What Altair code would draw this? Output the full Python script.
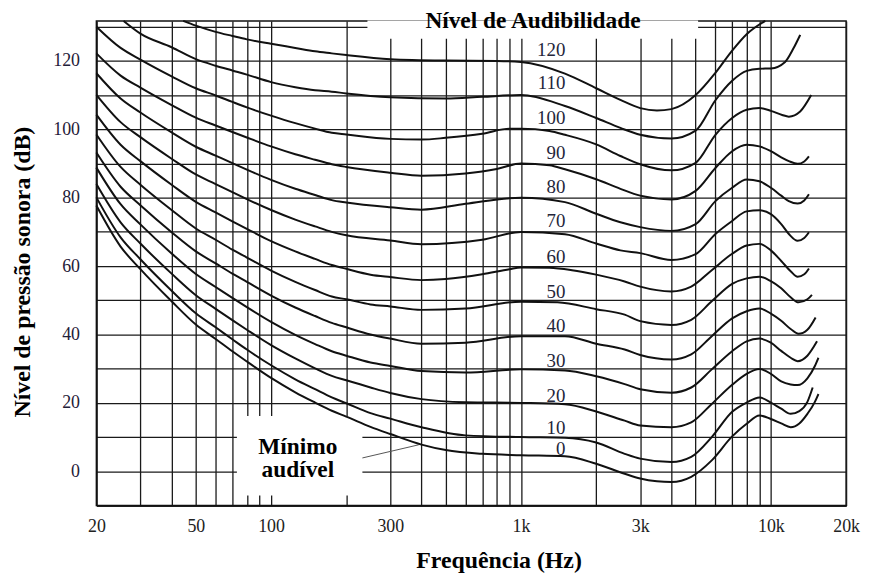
import altair as alt
import pandas as pd

# ---------------- data ----------------
F_0 = [20, 25, 30, 40, 50, 60, 70, 80, 100, 125, 150, 175, 200, 250, 300, 400, 500, 700, 1000, 1500, 2000, 2600, 3000, 3500, 4000, 4800, 5800, 7000, 8000, 9000, 10000, 11000, 12000, 13000, 14000, 15000, 15500]
DB_0 = [77.7, 65.7, 59.1, 49.7, 42.9, 38.7, 35.1, 32.1, 27.3, 23.1, 20.1, 17.7, 16.0, 13.0, 10.9, 7.8, 6.2, 5.1, 4.7, 4.4, 2.2, -0.7, -2.1, -2.9, -3.1, -1.6, 3.2, 10.2, 13.9, 16.3, 15.3, 14.0, 12.9, 14.0, 16.8, 20.3, 22.6]

F_10 = [20, 25, 30, 40, 50, 60, 70, 80, 100, 125, 150, 175, 200, 250, 300, 400, 600, 1000, 1500, 2000, 2600, 3000, 4000, 4800, 5800, 7000, 8000, 9000, 10000, 11000, 12000, 13000, 14000, 14700]
DB_10 = [80.1, 68.4, 62.0, 52.8, 46.2, 42.1, 38.6, 35.6, 31.0, 26.9, 24.0, 21.6, 19.9, 17.0, 15.4, 12.9, 10.5, 10.0, 9.8, 8.4, 5.1, 3.7, 2.7, 4.2, 10.0, 17.4, 20.1, 21.6, 20.1, 18.3, 16.8, 17.6, 20.3, 24.5]

F_20 = [20, 25, 30, 40, 50, 60, 70, 80, 100, 125, 150, 175, 200, 250, 300, 400, 600, 1000, 1500, 2000, 2600, 3000, 4000, 4800, 5800, 7000, 8000, 9000, 10000, 11000, 12000, 12800, 14000, 15000, 15500]
DB_20 = [84.0, 72.8, 66.6, 57.8, 51.5, 47.5, 44.2, 41.4, 36.9, 33.0, 30.1, 27.9, 26.6, 24.5, 22.9, 21.1, 20.2, 20.0, 19.6, 17.5, 14.8, 13.4, 12.9, 14.3, 19.7, 25.3, 28.5, 29.9, 28.5, 26.3, 25.4, 25.2, 27.2, 30.8, 33.2]

F_30 = [20, 25, 30, 40, 50, 60, 70, 80, 100, 125, 150, 175, 200, 250, 300, 400, 600, 1000, 1500, 2000, 2600, 3000, 4000, 4800, 5800, 7000, 8000, 9000, 10000, 11000, 12000, 12800, 14000, 15300]
DB_30 = [88.8, 78.1, 72.2, 63.7, 57.7, 53.9, 50.7, 48.0, 43.7, 39.9, 37.2, 35.1, 33.8, 31.8, 30.8, 29.3, 28.9, 29.8, 29.5, 27.8, 25.5, 24.0, 23.0, 24.5, 29.8, 35.1, 38.0, 38.8, 37.6, 35.2, 33.2, 32.2, 33.8, 38.0]

F_40 = [20, 25, 30, 40, 50, 60, 70, 80, 100, 125, 150, 175, 200, 250, 300, 400, 600, 1000, 1500, 2000, 2600, 3000, 4000, 4800, 5800, 7000, 8000, 9000, 10000, 11000, 12000, 12900, 14000, 15100]
DB_40 = [93.2, 83.2, 77.8, 69.9, 64.3, 60.8, 57.8, 55.4, 51.4, 47.9, 45.4, 43.4, 42.1, 40.0, 38.8, 37.3, 37.6, 39.5, 39.5, 37.3, 35.6, 34.0, 32.7, 34.2, 39.5, 44.7, 46.8, 47.6, 46.1, 44.0, 41.6, 40.2, 41.4, 45.0]

F_50 = [20, 25, 30, 40, 50, 60, 70, 80, 100, 125, 150, 175, 200, 250, 300, 400, 600, 1000, 1400, 2000, 2600, 3000, 4000, 4800, 5800, 7000, 8000, 9000, 10000, 11000, 12000, 12900, 14000, 14600]
DB_50 = [98.5, 89.0, 83.8, 76.4, 71.0, 67.7, 64.8, 62.5, 58.7, 55.4, 53.0, 51.1, 50.3, 48.8, 48.2, 47.2, 47.6, 49.6, 49.4, 47.4, 45.8, 43.9, 42.8, 44.3, 49.7, 54.8, 56.4, 56.9, 55.6, 53.5, 50.9, 49.4, 50.3, 51.6]

F_60 = [20, 25, 30, 40, 50, 60, 70, 80, 100, 125, 150, 175, 200, 250, 300, 400, 500, 700, 900, 1000, 1300, 1600, 2000, 2600, 3000, 4000, 4800, 5800, 7000, 8000, 9000, 10000, 11000, 12000, 12800, 13600, 14200]
DB_60 = [104.3, 95.5, 90.7, 83.8, 78.8, 75.7, 73.1, 70.9, 67.3, 64.3, 62.1, 60.3, 59.2, 57.5, 56.8, 55.9, 56.2, 57.6, 59.1, 59.6, 59.5, 58.8, 57.5, 55.5, 54.0, 52.6, 54.0, 58.8, 63.6, 66.0, 66.5, 64.6, 61.5, 58.5, 56.9, 57.6, 59.3]

F_70 = [20, 25, 30, 40, 50, 60, 70, 80, 100, 125, 150, 175, 200, 300, 400, 700, 1000, 1500, 2000, 2500, 3000, 4000, 5000, 6000, 7000, 8000, 9000, 10000, 11000, 11800, 12800, 13600, 14200]
DB_70 = [110.1, 102.1, 97.7, 91.4, 86.8, 84.0, 81.6, 79.6, 76.4, 73.6, 71.6, 70.0, 69.0, 67.5, 66.4, 67.7, 70.0, 69.3, 66.6, 64.6, 63.8, 61.8, 63.5, 69.4, 73.2, 76.0, 76.3, 75.2, 72.3, 69.4, 67.4, 68.2, 69.9]

F_80 = [20, 25, 30, 40, 50, 60, 70, 80, 100, 125, 150, 175, 200, 300, 400, 600, 1000, 1500, 2000, 2500, 3000, 4000, 5000, 6000, 7000, 8000, 9000, 10000, 11000, 11800, 12800, 13600, 14200]
DB_80 = [116.4, 109.0, 104.9, 99.1, 94.9, 92.3, 90.1, 88.2, 85.2, 82.6, 80.8, 79.3, 78.6, 77.2, 76.5, 78.2, 80.0, 78.7, 75.3, 72.8, 71.4, 70.3, 72.3, 79.0, 82.9, 85.3, 84.8, 82.9, 80.6, 79.0, 78.3, 79.2, 81.0]

F_90 = [20, 25, 30, 40, 50, 60, 70, 80, 100, 125, 150, 175, 200, 300, 400, 600, 800, 1000, 1300, 1500, 2000, 2500, 3000, 4000, 5000, 6000, 7000, 8000, 9000, 10000, 11000, 11800, 12800, 13600, 14200]
DB_90 = [122.2, 115.7, 112.2, 107.1, 103.4, 101.1, 99.2, 97.6, 95.0, 92.7, 91.1, 89.8, 89.0, 87.3, 86.4, 87.1, 88.4, 90.0, 89.5, 88.3, 85.4, 82.6, 80.6, 79.5, 82.0, 88.7, 93.6, 95.5, 95.0, 93.6, 91.8, 90.7, 89.9, 90.6, 92.1]

F_100 = [20, 25, 30, 40, 50, 60, 70, 80, 100, 125, 150, 175, 200, 300, 400, 500, 700, 900, 1000, 1300, 1500, 2000, 2500, 3000, 4000, 5000, 6000, 7000, 8000, 9000, 10000, 11100, 11800, 13100, 14500]
DB_100 = [130.0, 123.8, 120.4, 115.5, 112.0, 109.9, 108.0, 106.4, 104.0, 101.8, 100.2, 99.0, 98.5, 97.2, 97.0, 97.5, 98.7, 100.2, 100.2, 99.5, 98.4, 95.6, 92.2, 89.8, 88.0, 90.2, 98.4, 103.3, 105.7, 106.2, 105.4, 104.2, 103.7, 105.2, 110.0]

F_110 = [25.7, 30, 40, 50, 60, 70, 80, 100, 125, 150, 175, 200, 300, 500, 700, 1000, 1500, 2000, 2500, 3000, 4000, 5000, 6000, 7000, 8000, 9000, 10000, 11400, 12300, 13100]
DB_110 = [131.7, 128.0, 124.0, 120.5, 118.6, 117.2, 116.0, 113.8, 112.3, 111.4, 111.0, 110.5, 109.4, 109.0, 109.5, 110.0, 106.8, 103.3, 100.4, 98.4, 97.3, 99.6, 108.5, 114.2, 117.1, 117.7, 117.8, 119.7, 123.6, 127.6]

F_120 = [44.5, 50, 60, 70, 80, 100, 125, 150, 175, 200, 300, 500, 800, 1000, 1500, 2000, 2500, 3000, 3500, 4000, 5000, 6000, 7000, 8000, 9500]
DB_120 = [131.7, 130.3, 128.5, 127.3, 126.3, 125.0, 123.8, 122.8, 122.2, 121.7, 120.5, 120.1, 120.0, 119.7, 116.3, 112.0, 108.6, 106.2, 105.5, 105.9, 110.0, 116.5, 123.0, 127.8, 131.7]

LEVELS = [0, 10, 20, 30, 40, 50, 60, 70, 80, 90, 100, 110, 120]
LABEL_DB = [6.6, 12.6, 22.1, 32.2, 42.6, 52.5, 62.7, 73.1, 83.0, 93.2, 103.3, 113.5, 123.2]
LABEL_FREQ = 1505

GRID_X = [20, 30, 40, 50, 60, 70, 80, 90, 100, 200, 300, 400, 500, 600, 700, 800, 900,
          1000, 2000, 3000, 4000, 5000, 6000, 7000, 8000, 9000, 10000, 20000]
LABELED_X = [20, 50, 100, 300, 1000, 3000, 10000, 20000]
GRID_Y = [-10, 0, 10, 20, 30, 40, 50, 60, 70, 80, 90, 100, 110, 120, 130]

# ---------------- build tables ----------------
series = [(0, F_0, DB_0), (10, F_10, DB_10), (20, F_20, DB_20), (30, F_30, DB_30),
          (40, F_40, DB_40), (50, F_50, DB_50), (60, F_60, DB_60), (70, F_70, DB_70),
          (80, F_80, DB_80), (90, F_90, DB_90), (100, F_100, DB_100),
          (110, F_110, DB_110), (120, F_120, DB_120)]
rows = []
for lvl, fs, ds in series:
    for i, (f, d) in enumerate(zip(fs, ds)):
        rows.append({"phon": lvl, "f": f, "db": d, "i": i})
curves_df = pd.DataFrame(rows)

labels_df = pd.DataFrame({"f": [LABEL_FREQ] * len(LEVELS), "db": LABEL_DB,
                          "txt": [str(v) for v in LEVELS]})

boxes_df = pd.DataFrame({"f": [243, 73], "f2": [5115, 232],
                         "db": [126.5, -7.05], "db2": [131.85, 16.2]})
pointer_df = pd.DataFrame({"f": [232], "f2": [390], "db": [3.9], "db2": [7.75]})
notes_df = pd.DataFrame({"f": [1117, 128, 128], "db": [129.5, 5.15, -1.8],
                         "txt": ["Nível de Audibilidade", "Mínimo", "audível"]})

# ---------------- encodings ----------------
SERIF = "Liberation Serif"
lbl_list = ",".join(str(v) for v in LABELED_X)
x_label_expr = ("indexof([" + lbl_list + "], datum.value) >= 0 ? "
                "(datum.value >= 1000 ? (datum.value/1000) + 'k' : '' + datum.value) : ''")
y_label_expr = "datum.value >= 0 && datum.value % 20 == 0 ? '' + datum.value : ''"

xscale = alt.Scale(type="log", domain=[20, 20000], nice=False)
yscale = alt.Scale(domain=[-10, 131.7], nice=False, zero=False)

xaxis = alt.Axis(values=GRID_X, grid=True, gridColor="#1a1a1a", gridWidth=1.3, gridOpacity=1,
                 ticks=False, tickSize=0, domain=True, domainColor="#111", domainWidth=1.5,
                 labelExpr=x_label_expr, labelFont=SERIF, labelFontSize=18, labelColor="#222",
                 labelPadding=12, labelFlush=False, labelOverlap=False,
                 title="Frequência (Hz)", titleFont=SERIF, titleFontSize=24,
                 titleFontWeight="bold", titleColor="#000", titleX=405, titleY=62,
                 titleAlign="center", titleBaseline="alphabetic")
yaxis = alt.Axis(values=GRID_Y, grid=True, gridColor="#1a1a1a", gridWidth=1.3, gridOpacity=1,
                 ticks=False, tickSize=0, domain=True, domainColor="#111", domainWidth=1.5,
                 labelExpr=y_label_expr, labelFont=SERIF, labelFontSize=18, labelColor="#1f2038",
                 labelPadding=17, labelOverlap=False,
                 title="Nível de pressão sonora (dB)", titleFont=SERIF, titleFontSize=24,
                 titleFontWeight="bold", titleColor="#000", titleX=-67.8, titleY=252.5,
                 titleAngle=270, titleAlign="center", titleBaseline="alphabetic")

X = alt.X("f:Q", scale=xscale, axis=xaxis)
Y = alt.Y("db:Q", scale=yscale, axis=yaxis)

boxes = alt.Chart(boxes_df).mark_rect(fill="white", stroke=None).encode(
    x=X, x2=alt.X2("f2:Q"), y=Y, y2=alt.Y2("db2:Q"))

pointer = alt.Chart(pointer_df).mark_rule(color="#555", strokeWidth=1).encode(
    x=X, x2=alt.X2("f2:Q"), y=Y, y2=alt.Y2("db2:Q"))

lines = alt.Chart(curves_df).mark_line(color="#111", strokeWidth=2, interpolate="monotone").encode(
    x=X, y=Y, detail="phon:N", order="i:Q")

curve_labels = alt.Chart(labels_df).mark_text(
    align="right", baseline="middle", font=SERIF, fontSize=19, color="#24263a").encode(
    x=X, y=Y, text="txt:N")

notes = alt.Chart(notes_df).mark_text(
    align="center", baseline="alphabetic", font=SERIF, fontSize=23.5, fontWeight="bold",
    color="#000").encode(x=X, y=Y, text="txt:N")

chart = alt.layer(boxes, pointer, lines, curve_labels, notes).properties(
    width=755, height=488,
    autosize=alt.AutoSizeParams(type="none"),
    padding={"left": 89, "top": 11, "right": 15, "bottom": 66},
    background="white",
).configure_view(stroke="#111", strokeWidth=1.5)

chart.save("out.html", embed_options={"renderer": "svg", "actions": False})
